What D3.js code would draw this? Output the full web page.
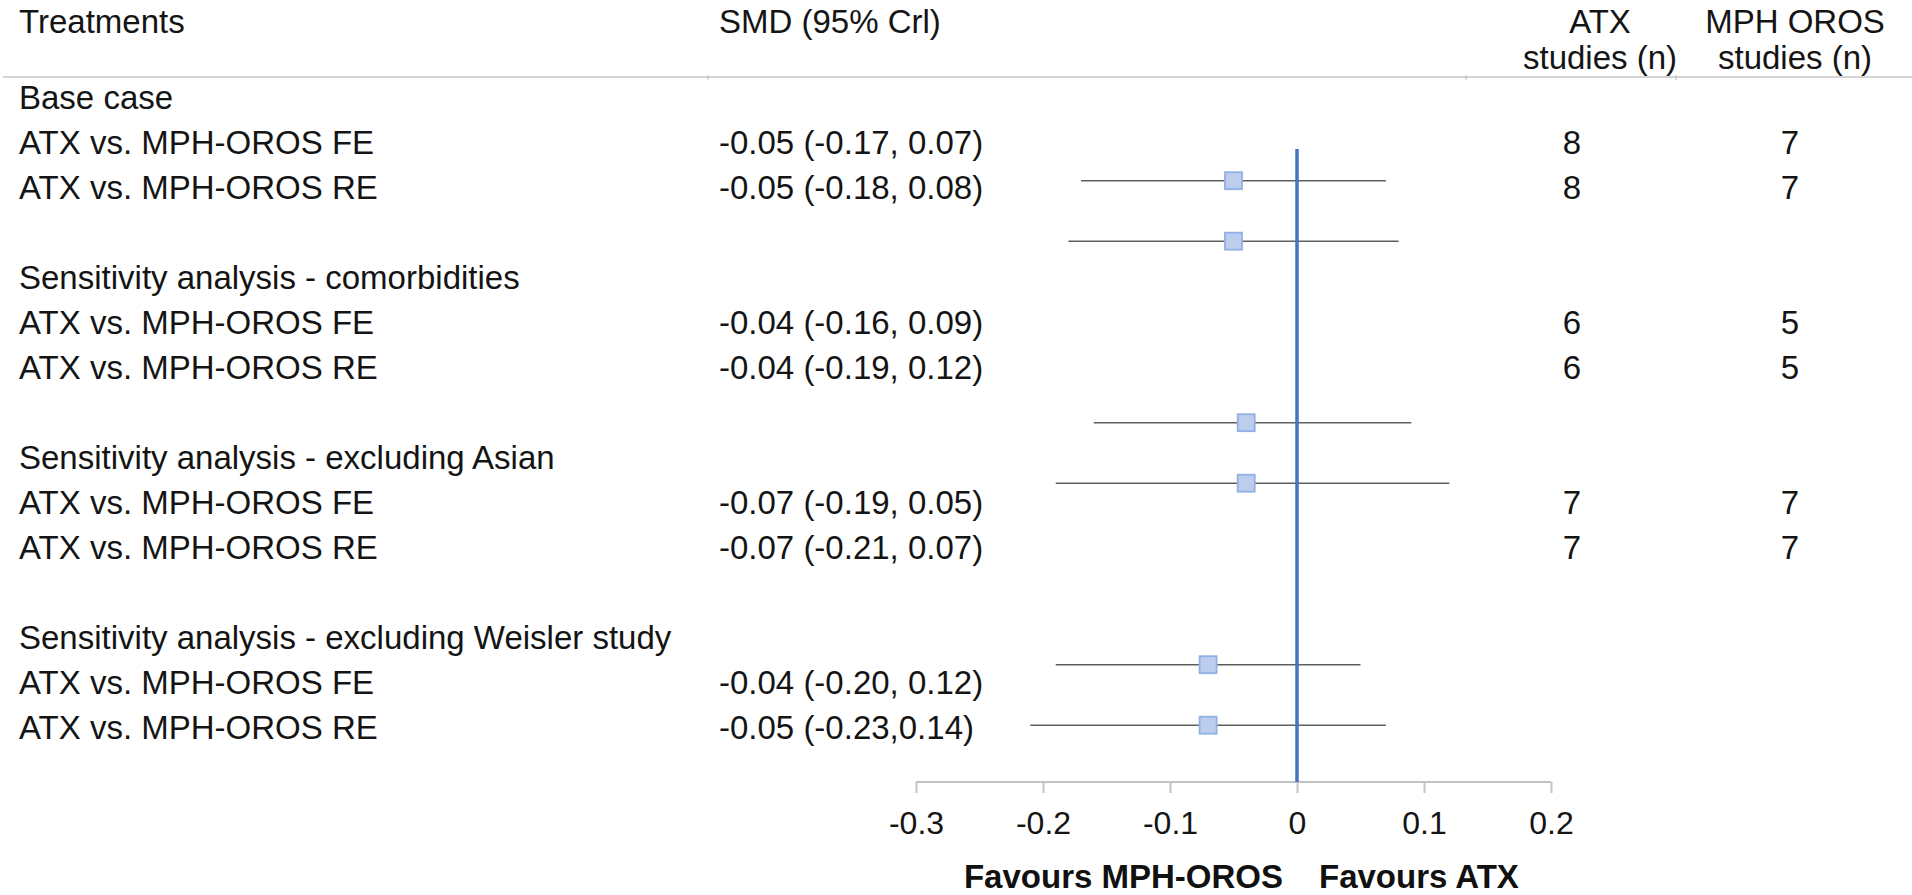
<!DOCTYPE html>
<html>
<head>
<meta charset="utf-8">
<script src="https://cdn.jsdelivr.net/npm/d3@7"></script>
<style>
  html, body { margin: 0; padding: 0; background: #fff; }
  svg { display: block; font-family: "Liberation Sans", Arial, sans-serif; }
  .cell { font-size: 33px; fill: #141414; }
  .axis text { font-size: 32px; fill: #141414; font-family: "Liberation Sans", Arial, sans-serif; }
  .axis path, .axis line { stroke: #c3c3c3; stroke-width: 2px; }
  .favours { font-size: 33px; font-weight: bold; fill: #111; }
</style>
</head>
<body>
<div id="chart"></div>
<script>
// groups of the table and the rows under each
var groups = [
  "Base case",
  "Sensitivity analysis - comorbidities",
  "Sensitivity analysis - excluding Asian",
  "Sensitivity analysis - excluding Weisler study"
];
var treatments = [
  "ATX vs. MPH-OROS FE", "ATX vs. MPH-OROS RE",
  "ATX vs. MPH-OROS FE", "ATX vs. MPH-OROS RE",
  "ATX vs. MPH-OROS FE", "ATX vs. MPH-OROS RE",
  "ATX vs. MPH-OROS FE", "ATX vs. MPH-OROS RE"
];
var rowGroup = [0, 0, 1, 1, 2, 2, 3, 3];
var smd   = [-0.05, -0.05, -0.04, -0.04, -0.07, -0.07, -0.04, -0.05];
var lower = [-0.17, -0.18, -0.16, -0.19, -0.19, -0.21, -0.20, -0.23];
var upper = [ 0.07,  0.08,  0.09,  0.12,  0.05,  0.07,  0.12,  0.14];
var smdLabels = [
  "-0.05 (-0.17, 0.07)", "-0.05 (-0.18, 0.08)",
  "-0.04 (-0.16, 0.09)", "-0.04 (-0.19, 0.12)",
  "-0.07 (-0.19, 0.05)", "-0.07 (-0.21, 0.07)",
  "-0.04 (-0.20, 0.12)", "-0.05 (-0.23,0.14)"
];
var atxN = [8, 8, 6, 6, 7, 7, null, null];
var mphN = [7, 7, 5, 5, 7, 7, null, null];
var xTicks = [-0.3, -0.2, -0.1, 0, 0.1, 0.2];

var width = 1912, height = 895;

var svg = d3.select("#chart").append("svg")
    .attr("width", width)
    .attr("height", height);

// table lines: group header, its rows, then a blank line
var lines = [];
groups.forEach(function(g, gi) {
  lines.push({type: "header", text: g});
  rowGroup.forEach(function(rg, i) {
    if (rg === gi) lines.push({type: "row", i: i});
  });
  lines.push({type: "blank"});
});
lines.forEach(function(l, r) { l.r = r; });

var yTable = d3.scaleLinear().domain([0, 14]).range([97.5, 727.5]);
// the plot rows run on their own, wider spacing
var yPlot = d3.scaleLinear().domain([1, 10]).range([180.7, 725.2]);
var x = d3.scaleLinear().domain([-0.3, 0.2]).range([916, 1551]);

var axisY = 782;
var colTreat = 19, colSmd = 719;
var colAtxHead = 1600, colAtx = 1572, colMphHead = 1795, colMph = 1790;

// header
var head = svg.append("g");
head.append("text").attr("class", "cell").attr("x", colTreat).attr("y", 33).text("Treatments");
head.append("text").attr("class", "cell").attr("x", colSmd).attr("y", 33).text("SMD (95% Crl)");
head.append("text").attr("class", "cell").attr("x", colAtxHead).attr("y", 33).style("text-anchor", "middle").text("ATX");
head.append("text").attr("class", "cell").attr("x", colAtxHead).attr("y", 69).style("text-anchor", "middle").text("studies (n)");
head.append("text").attr("class", "cell").attr("x", colMphHead).attr("y", 33).style("text-anchor", "middle").text("MPH OROS");
head.append("text").attr("class", "cell").attr("x", colMphHead).attr("y", 69).style("text-anchor", "middle").text("studies (n)");

svg.append("line")
    .attr("x1", 3).attr("x2", width)
    .attr("y1", 77).attr("y2", 77)
    .attr("stroke", "#aaa").attr("stroke-width", 1);

svg.selectAll(".colsep")
    .data([708, 1466, 1676])
    .enter().append("line")
    .attr("x1", function(d) { return d; }).attr("x2", function(d) { return d; })
    .attr("y1", 75).attr("y2", 80)
    .attr("stroke", "#b8b8b8").attr("stroke-width", 1);

// table body
var body = svg.append("g");
body.selectAll(".ghead")
    .data(lines.filter(function(l) { return l.type === "header"; }))
    .enter().append("text")
    .attr("class", "cell")
    .attr("x", colTreat)
    .attr("y", function(d) { return yTable(d.r); })
    .attr("dy", "0.36em")
    .text(function(d) { return d.text; });

var rows = lines.filter(function(l) { return l.type === "row"; });

var rowG = body.selectAll(".row")
    .data(rows)
    .enter().append("g")
    .attr("transform", function(d) { return "translate(0," + yTable(d.r) + ")"; });

rowG.append("text").attr("class", "cell").attr("x", colTreat).attr("dy", "0.36em")
    .text(function(d) { return treatments[d.i]; });
rowG.append("text").attr("class", "cell").attr("x", colSmd).attr("dy", "0.36em")
    .text(function(d) { return smdLabels[d.i]; });
rowG.append("text").attr("class", "cell").attr("x", colAtx).attr("dy", "0.36em")
    .style("text-anchor", "middle")
    .text(function(d) { return atxN[d.i] == null ? "" : atxN[d.i]; });
rowG.append("text").attr("class", "cell").attr("x", colMph).attr("dy", "0.36em")
    .style("text-anchor", "middle")
    .text(function(d) { return mphN[d.i] == null ? "" : mphN[d.i]; });

// forest plot
var plot = svg.append("g");

plot.append("g")
    .attr("class", "axis")
    .attr("transform", "translate(0," + axisY + ")")
    .call(d3.axisBottom(x)
        .tickValues(xTicks)
        .tickSize(11)
        .tickSizeOuter(0)
        .tickPadding(18)
        .tickFormat(function(d) { return String(+d.toFixed(1)); }))
    .call(function(g) { g.select(".domain").attr("d", "M" + x(-0.3) + ",0H" + x(0.2)); });

var shown = rows.filter(function(d) { return yPlot(d.r) < axisY; });

plot.selectAll(".ci")
    .data(shown)
    .enter().append("line")
    .attr("x1", function(d) { return x(lower[d.i]); })
    .attr("x2", function(d) { return x(upper[d.i]); })
    .attr("y1", function(d) { return yPlot(d.r); })
    .attr("y2", function(d) { return yPlot(d.r); })
    .attr("stroke", "#5e5e5e").attr("stroke-width", 1.6);

plot.append("line")
    .attr("x1", x(0)).attr("x2", x(0))
    .attr("y1", 149).attr("y2", axisY)
    .attr("stroke", "#4674c2").attr("stroke-width", 3.5);

var box = 17;
plot.selectAll(".pt")
    .data(shown)
    .enter().append("rect")
    .attr("x", function(d) { return x(smd[d.i]) - box / 2; })
    .attr("y", function(d) { return yPlot(d.r) - box / 2; })
    .attr("width", box).attr("height", box)
    .attr("fill", "#bccdee")
    .attr("stroke", "#8fb1e3").attr("stroke-width", 1.8);

plot.append("text").attr("class", "favours")
    .attr("x", x(0) - 14).attr("y", 888)
    .style("text-anchor", "end")
    .text("Favours MPH-OROS");
plot.append("text").attr("class", "favours")
    .attr("x", x(0) + 22).attr("y", 888)
    .text("Favours ATX");
</script>
</body>
</html>
